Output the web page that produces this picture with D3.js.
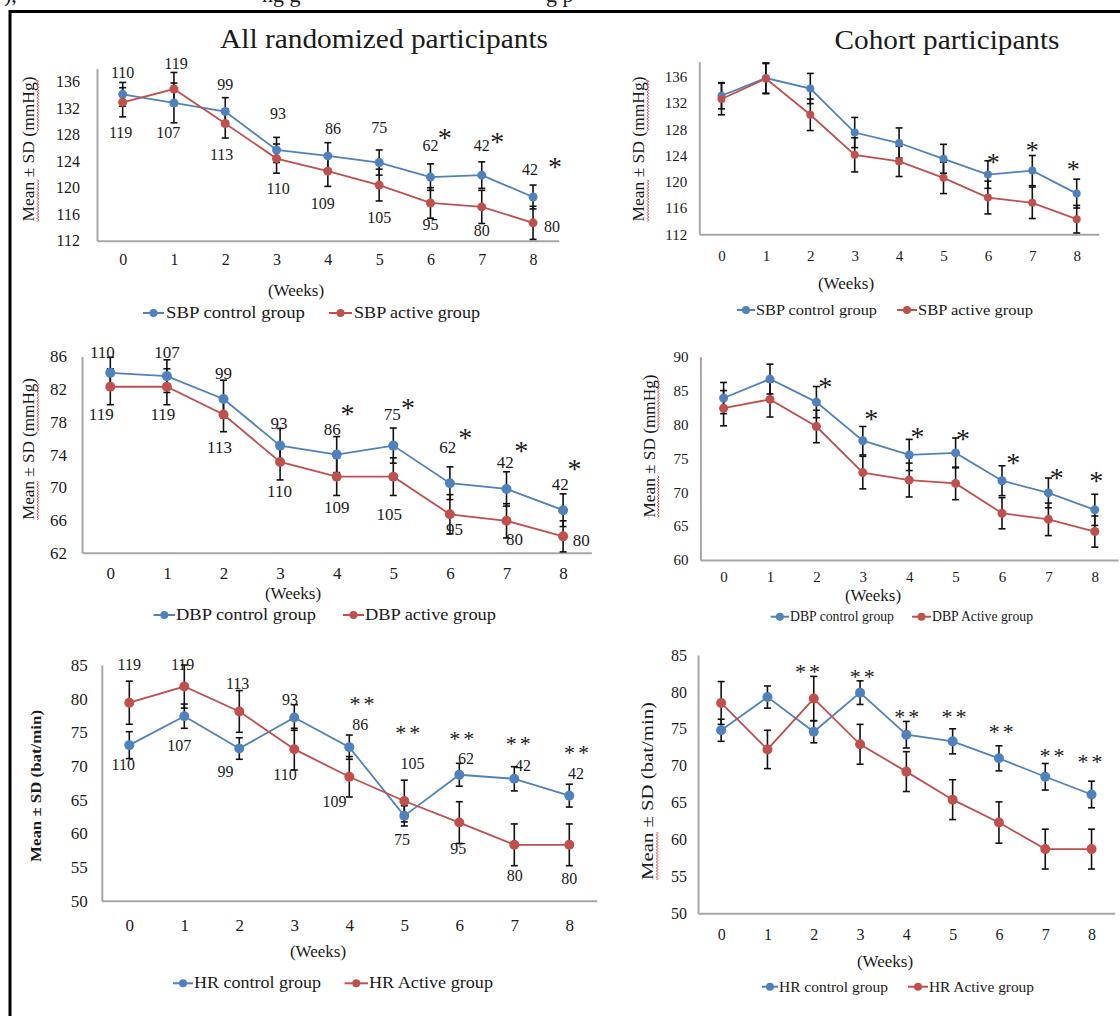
<!DOCTYPE html>
<html>
<head>
<meta charset="utf-8">
<script src="https://cdn.jsdelivr.net/npm/d3@7"></script>
<style>
  body { margin: 0; background: #fff; }
  svg text { font-family: "Liberation Serif", "Times New Roman", serif; fill: #1a1a1a; }
</style>
</head>
<body>
<script>
'use strict'
// ---- data ----
var weeks = [0, 1, 2, 3, 4, 5, 6, 7, 8];
var nControl = [110, 107, 99, 93, 86, 75, 62, 42, 42];
var nActive = [119, 119, 113, 110, 109, 105, 95, 80, 80];

var sbpTicks = [112, 116, 120, 124, 128, 132, 136];
var dbpAllTicks = [62, 66, 70, 74, 78, 82, 86];
var dbpCohortTicks = [60, 65, 70, 75, 80, 85, 90];
var hrTicks = [50, 55, 60, 65, 70, 75, 80, 85];

var sbpAllControl = [134.1, 132.8, 131.5, 125.7, 124.8, 123.8, 121.6, 121.9, 118.6];
var sbpAllControlSD = [1.8, 3.0, 2.1, 1.9, 2.0, 1.9, 2.0, 2.0, 1.8];
var sbpAllActive = [132.9, 134.9, 129.7, 124.4, 122.5, 120.4, 117.7, 117.1, 114.7];
var sbpAllActiveSD = [2.2, 2.5, 2.2, 2.2, 2.3, 2.4, 2.3, 2.5, 2.5];
var sbpAllSig = [6, 7, 8];

var sbpCohortControl = [133.1, 135.8, 134.2, 127.5, 125.9, 123.5, 121.1, 121.7, 118.2];
var sbpCohortControlSD = [2.0, 2.3, 2.3, 2.3, 2.3, 2.2, 2.1, 2.3, 2.2];
var sbpCohortActive = [132.6, 135.7, 130.2, 124.1, 123.1, 120.6, 117.6, 116.8, 114.3];
var sbpCohortActiveSD = [2.4, 2.3, 2.4, 2.6, 2.3, 2.4, 2.5, 2.4, 2.1];
var sbpCohortSig = [6, 7, 8];

var dbpAllControl = [84.0, 83.6, 80.8, 75.1, 74.0, 75.1, 70.5, 69.8, 67.2];
var dbpAllControlSD = [1.9, 2.0, 2.3, 2.1, 2.2, 2.15, 2.0, 2.1, 2.0];
var dbpAllActive = [82.3, 82.3, 78.9, 73.1, 71.3, 71.3, 66.7, 65.9, 64.0];
var dbpAllActiveSD = [2.2, 2.2, 2.1, 2.2, 2.3, 2.3, 2.4, 2.1, 1.9];
var dbpAllSig = [4, 5, 6, 7, 8];

var dbpCohortControl = [83.9, 86.7, 83.3, 77.6, 75.5, 75.8, 71.7, 69.9, 67.4];
var dbpCohortControlSD = [2.3, 2.2, 2.3, 2.1, 2.3, 2.2, 2.2, 2.2, 2.3];
var dbpCohortActive = [82.4, 83.7, 79.7, 72.9, 71.8, 71.3, 66.9, 66.0, 64.2];
var dbpCohortActiveSD = [2.6, 2.6, 2.4, 2.4, 2.5, 2.4, 2.3, 2.4, 2.3];
var dbpCohortSig = [2, 3, 4, 5, 6, 7, 8];

var hrAllControl = [73.1, 77.4, 72.6, 77.2, 72.8, 62.6, 68.7, 68.1, 65.6];
var hrAllControlSD = [2.0, 1.8, 1.6, 1.9, 1.8, 1.5, 1.7, 1.8, 1.7];
var hrAllActive = [79.4, 81.8, 78.1, 72.5, 68.4, 64.8, 61.6, 58.3, 58.3];
var hrAllActiveSD = [3.2, 3.2, 3.1, 3.1, 3.0, 3.1, 3.1, 3.1, 3.1];
var hrAllSig = [4, 5, 6, 7, 8];

var hrCohortControl = [74.8, 79.3, 74.6, 79.9, 74.2, 73.3, 71.0, 68.5, 66.1];
var hrCohortControlSD = [1.5, 1.5, 1.5, 1.6, 1.8, 1.7, 1.7, 1.8, 1.8];
var hrCohortActive = [78.5, 72.2, 79.1, 72.9, 69.2, 65.4, 62.3, 58.7, 58.7];
var hrCohortActiveSD = [2.9, 2.6, 3.0, 2.7, 2.7, 2.7, 2.8, 2.7, 2.7];
var hrCohortSig = [2, 3, 4, 5, 6, 7, 8];

// where the n labels and stars sit, in [week, value] units
var sbpAllControlLabelAt = [[0, 137.4], [0.89, 128.3], [2.0, 135.6], [3.03, 131.2], [4.1, 128.9], [5.0, 129.1], [6.0, 126.3], [7.0, 126.3], [7.94, 122.8]];
var sbpAllActiveLabelAt = [[-0.04, 128.3], [1.04, 138.8], [1.93, 125.0], [3.03, 119.9], [3.9, 117.6], [5.0, 115.5], [6.0, 114.4], [7.0, 113.5], [8.37, 114.1]];
var sbpAllSigAt = [[6.28, 128.2], [7.3, 127.6], [8.43, 123.9]];
var sbpCohortSigAt = [[6.12, 123.6], [7.0, 125.5], [7.92, 122.6]];
var dbpAllControlLabelAt = [[-0.14, 86.5], [1.0, 86.5], [2.0, 83.9], [2.98, 77.8], [3.92, 77.1], [4.98, 79.0], [5.96, 74.9], [6.98, 73.1], [7.95, 70.4]];
var dbpAllActiveLabelAt = [[-0.16, 79.0], [0.93, 79.0], [1.93, 74.9], [2.99, 69.5], [4.0, 67.6], [4.93, 66.7], [6.08, 64.9], [7.14, 63.6], [8.32, 63.5]];
var dbpAllSigAt = [[4.19, 79.6], [5.26, 80.3], [6.27, 76.6], [7.26, 75.0], [8.2, 72.9]];
var dbpCohortSigAt = [[2.19, 86.3], [3.18, 81.6], [4.18, 78.9], [5.16, 78.6], [6.24, 75.0], [7.18, 72.8], [8.03, 72.4]];
var hrAllControlLabelAt = [[-0.11, 70.2], [0.91, 73.1], [1.75, 69.2], [2.92, 79.9], [4.2, 76.1], [4.96, 59.1], [6.12, 71.1], [7.16, 70.0], [8.12, 68.9]];
var hrAllActiveLabelAt = [[0, 85.0], [0.97, 85.0], [1.97, 82.3], [2.83, 68.7], [3.73, 64.7], [5.15, 70.4], [5.98, 57.8], [7.01, 53.8], [8.0, 53.3]];
var hrAllSigAt = [[4.26, 79.8], [5.09, 75.5], [6.07, 74.6], [7.1, 73.9], [8.16, 72.5]];
var hrCohortSigAt = [[1.9, 83.2], [3.08, 82.6], [4.04, 77.2], [5.06, 77.2], [6.08, 75.1], [7.18, 71.8], [8.0, 71.0]];

var blue = "#4f81bd";
var red = "#c0504d";
var serif = "'Liberation Serif', 'Times New Roman', serif";

var svg = d3.select("body").append("svg")
            .attr("width", 1120)
            .attr("height", 1016)
            .attr("font-family", serif);

// frame and the cut caption line above it
svg.append("path")
   .attr("d", "M10,1016V11.5H1120")
   .attr("fill", "none")
   .attr("stroke", "#000")
   .attr("stroke-width", 3);
[[4, "),"], [262, "ng g"], [546, "g p"]].forEach(function(c){
  svg.append("text").attr("x", c[0]).attr("y", 1.5).style("font-size", "22px").text(c[1]);
});

svg.append("text").attr("x", 384).attr("y", 48).attr("text-anchor", "middle")
   .style("font-size", "27px").attr("textLength", 328).attr("lengthAdjust", "spacingAndGlyphs")
   .text("All randomized participants");
svg.append("text").attr("x", 947).attr("y", 49).attr("text-anchor", "middle")
   .style("font-size", "27px").attr("textLength", 225).attr("lengthAdjust", "spacingAndGlyphs")
   .text("Cohort participants");

var panels = [
  { ctrl: sbpAllControl, ctrlSD: sbpAllControlSD, act: sbpAllActive, actSD: sbpAllActiveSD,
    ctrlAt: sbpAllControlLabelAt, actAt: sbpAllActiveLabelAt, sig: sbpAllSig, sigAt: sbpAllSigAt, star: "*", starFs: 28,
    yTicks: sbpTicks, yDom: [112, 138], yRange: [240.7, 68.5], x0: 97, x1: 558.7,
    fs: 16, labelFs: 16, xPad: 13, yPad: 17, r: 4.5,
    weeksAt: [296, 290], legendY: 313, legend: [143, 164, 166, 329, 352, 354], legendW: [139, 126], legendFs: 17,
    names: ["SBP control group", "SBP active group"],
    yTitle: "Mean ± SD (mmHg)", yTitleAt: [28.6, 149], yTitleLen: 145, yTitleFs: 16, squiggle: [true, true] },
  { ctrl: sbpCohortControl, ctrlSD: sbpCohortControlSD, act: sbpCohortActive, actSD: sbpCohortActiveSD,
    sig: sbpCohortSig, sigAt: sbpCohortSigAt, star: "*", starFs: 26,
    yTicks: sbpTicks, yDom: [112, 138.3], yRange: [234.3, 61.6], x0: 699.3, x1: 1098.9,
    fs: 15, xPad: 16, yPad: 12, r: 4,
    weeksAt: [846, 283], legendY: 310, legend: [737, 755, 756, 897, 917, 918], legendW: [121, 115], legendFs: 15,
    names: ["SBP control group", "SBP active group"],
    yTitle: "Mean ± SD (mmHg)", yTitleAt: [638.6, 149], yTitleLen: 145, yTitleFs: 16, squiggle: [true, true] },
  { ctrl: dbpAllControl, ctrlSD: dbpAllControlSD, act: dbpAllActive, actSD: dbpAllActiveSD,
    ctrlAt: dbpAllControlLabelAt, actAt: dbpAllActiveLabelAt, sig: dbpAllSig, sigAt: dbpAllSigAt, star: "*", starFs: 28,
    yTicks: dbpAllTicks, yDom: [62, 86], yRange: [552.7, 356.5], x0: 82, x1: 591.4,
    fs: 17, labelFs: 17, xPad: 14.5, yPad: 15, r: 5,
    weeksAt: [293, 593], legendY: 615, legend: [153.6, 175, 176, 343, 364, 365], legendW: [140, 131], legendFs: 17,
    names: ["DBP control group", "DBP active group"],
    yTitle: "Mean ± SD (mmHg)", yTitleAt: [28.6, 449], yTitleLen: 142, yTitleFs: 16, squiggle: [true, true] },
  { ctrl: dbpCohortControl, ctrlSD: dbpCohortControlSD, act: dbpCohortActive, actSD: dbpCohortActiveSD,
    sig: dbpCohortSig, sigAt: dbpCohortSigAt, star: "*", starFs: 28,
    yTicks: dbpCohortTicks, yDom: [60, 90], yRange: [560, 356.7], x0: 700.4, x1: 1118,
    fs: 15, xPad: 11.5, yPad: 12, r: 4.5,
    weeksAt: [873, 595], legendY: 616.7, legend: [770.7, 789, 790, 912, 931, 932], legendW: [104, 101], legendFs: 14,
    names: ["DBP control group", "DBP Active group"],
    yTitle: "Mean ± SD (mmHg)", yTitleAt: [649, 446], yTitleLen: 143, yTitleFs: 16, squiggle: [true, true] },
  { ctrl: hrAllControl, ctrlSD: hrAllControlSD, act: hrAllActive, actSD: hrAllActiveSD,
    ctrlAt: hrAllControlLabelAt, actAt: hrAllActiveLabelAt, sig: hrAllSig, sigAt: hrAllSigAt, star: "**", starFs: 22,
    yTicks: hrTicks, yDom: [50, 85], yRange: [900.7, 665], x0: 101.8, x1: 596.8,
    fs: 17, labelFs: 16, xPad: 18, yPad: 14, r: 5,
    weeksAt: [318, 951.7], legendY: 983.3, legend: [173, 193, 194, 344.6, 368, 369], legendW: [127, 124], legendFs: 16,
    names: ["HR control group", "HR Active group"],
    yTitle: "Mean ± SD (bat/min)", yTitleAt: [35.7, 786], yTitleLen: 152, yTitleFs: 14, yTitleBold: true, squiggle: [false, false] },
  { ctrl: hrCohortControl, ctrlSD: hrCohortControlSD, act: hrCohortActive, actSD: hrCohortActiveSD,
    sig: hrCohortSig, sigAt: hrCohortSigAt, star: "**", starFs: 22,
    yTicks: hrTicks, yDom: [50, 85], yRange: [913.3, 655], x0: 698, x1: 1114.7,
    fs: 16, xPad: 15.5, yPad: 11, r: 5,
    weeksAt: [885, 961.7], legendY: 986.7, legend: [762, 778, 779, 908, 928, 929], legendW: [109, 105], legendFs: 15,
    names: ["HR control group", "HR Active group"],
    yTitle: "Mean ± SD (bat/min)", yTitleAt: [647.5, 791], yTitleLen: 178, yTitleFs: 17, squiggle: [true, false] }
];

panels.forEach(draw);

function squigglePath(x0, len, y){
  var d = "M" + x0 + "," + y;
  for (var s = 0; s < len; s += 3) {
    d += "L" + (x0 + s + 1.5) + "," + (y + 1.5) + "L" + (x0 + s + 3) + "," + y;
  }
  return d;
}

function draw(p){
  var g = svg.append("g");
  var x = d3.scaleLinear().domain([-0.5, 8.5]).range([p.x0, p.x1]);
  var y = d3.scaleLinear().domain(p.yDom).range(p.yRange);

  var xAxis = g.append("g")
    .attr("transform", "translate(0," + y(p.yDom[0]) + ")")
    .call(d3.axisBottom(x).tickValues(weeks).tickFormat(d3.format("d"))
            .tickSize(0).tickSizeOuter(0).tickPadding(p.xPad));
  var yAxis = g.append("g")
    .attr("transform", "translate(" + p.x0 + ",0)")
    .call(d3.axisLeft(y).tickValues(p.yTicks).tickFormat(d3.format("d"))
            .tickSize(0).tickSizeOuter(0).tickPadding(p.yPad));
  [xAxis, yAxis].forEach(function(a){
    a.attr("font-family", serif).attr("font-size", p.fs);
    a.select(".domain").attr("stroke", "#a6a6a6").attr("stroke-width", 2);
    a.selectAll("text").attr("fill", "#1a1a1a");
  });

  var series = [
    { vals: p.ctrl, sd: p.ctrlSD, color: blue },
    { vals: p.act, sd: p.actSD, color: red }
  ];
  var line = d3.line().x(function(d, i){ return x(weeks[i]); }).y(function(d){ return y(d); });

  series.forEach(function(s){
    g.append("path").attr("d", line(s.vals))
     .attr("fill", "none").attr("stroke", s.color).attr("stroke-width", 1.8);
  });

  series.forEach(function(s){
    var eb = g.append("g").attr("stroke", "#111").attr("stroke-width", 1.6);
    s.vals.forEach(function(v, i){
      var cx = x(weeks[i]), hi = y(v + s.sd[i]), lo = y(v - s.sd[i]);
      eb.append("line").attr("x1", cx).attr("x2", cx).attr("y1", hi).attr("y2", lo);
      eb.append("line").attr("x1", cx - 3.5).attr("x2", cx + 3.5).attr("y1", hi).attr("y2", hi);
      eb.append("line").attr("x1", cx - 3.5).attr("x2", cx + 3.5).attr("y1", lo).attr("y2", lo);
    });
  });

  series.forEach(function(s){
    g.selectAll(null).data(s.vals).enter().append("circle")
     .attr("cx", function(d, i){ return x(weeks[i]); })
     .attr("cy", function(d){ return y(d); })
     .attr("r", p.r)
     .attr("fill", s.color);
  });

  // n per group
  if (p.ctrlAt) {
    [[nControl, p.ctrlAt], [nActive, p.actAt]].forEach(function(pair){
      pair[0].forEach(function(n, i){
        g.append("text")
         .attr("x", x(pair[1][i][0]))
         .attr("y", y(pair[1][i][1]))
         .attr("dy", "0.34em")
         .attr("text-anchor", "middle")
         .style("font-size", p.labelFs + "px")
         .text(n);
      });
    });
  }

  // significance stars
  p.sig.forEach(function(w, i){
    g.append("text")
     .attr("x", x(p.sigAt[i][0]))
     .attr("y", y(p.sigAt[i][1]))
     .attr("dy", "0.5em")
     .attr("text-anchor", "middle")
     .style("font-size", p.starFs + "px")
     .style("letter-spacing", p.star.length > 1 ? "3px" : null)
     .text(p.star);
  });

  g.append("text")
   .attr("x", p.weeksAt[0]).attr("y", p.weeksAt[1]).attr("dy", "0.34em")
   .attr("text-anchor", "middle")
   .style("font-size", "17px")
   .text("(Weeks)");

  // legend
  var L = p.legend;
  [[L[0], L[1], L[2], blue, p.names[0], p.legendW[0]], [L[3], L[4], L[5], red, p.names[1], p.legendW[1]]].forEach(function(e){
    g.append("line").attr("x1", e[0]).attr("x2", e[1]).attr("y1", p.legendY).attr("y2", p.legendY)
     .attr("stroke", e[3]).attr("stroke-width", 2);
    g.append("circle").attr("cx", (e[0] + e[1]) / 2).attr("cy", p.legendY).attr("r", 4).attr("fill", e[3]);
    g.append("text").attr("x", e[2]).attr("y", p.legendY).attr("dy", "0.32em")
     .style("font-size", p.legendFs + "px")
     .attr("textLength", e[5]).attr("lengthAdjust", "spacingAndGlyphs")
     .text(e[4]);
  });

  // y title, rotated, with the spell-check marks
  var tg = g.append("g").attr("transform", "translate(" + p.yTitleAt[0] + "," + p.yTitleAt[1] + ") rotate(-90)");
  var t = tg.append("text")
    .attr("text-anchor", "middle")
    .attr("dy", "0.35em")
    .style("font-size", p.yTitleFs + "px")
    .style("font-weight", p.yTitleBold ? "bold" : null)
    .attr("textLength", p.yTitleLen).attr("lengthAdjust", "spacingAndGlyphs")
    .text(p.yTitle);
  var node = t.node();
  var start = -p.yTitleLen / 2;
  var base = p.yTitleFs * 0.35 + 3;
  if (p.squiggle[0]) {
    tg.append("path").attr("d", squigglePath(start, node.getSubStringLength(0, 4), base))
      .attr("fill", "none").attr("stroke", "#e03030").attr("stroke-width", 1);
  }
  var mi = p.yTitle.indexOf("(") + 1;
  if (p.squiggle[1]) {
    tg.append("path").attr("d", squigglePath(start + node.getSubStringLength(0, mi), node.getSubStringLength(mi, 4), base))
      .attr("fill", "none").attr("stroke", "#e03030").attr("stroke-width", 1);
  }
}
</script>
</body>
</html>
